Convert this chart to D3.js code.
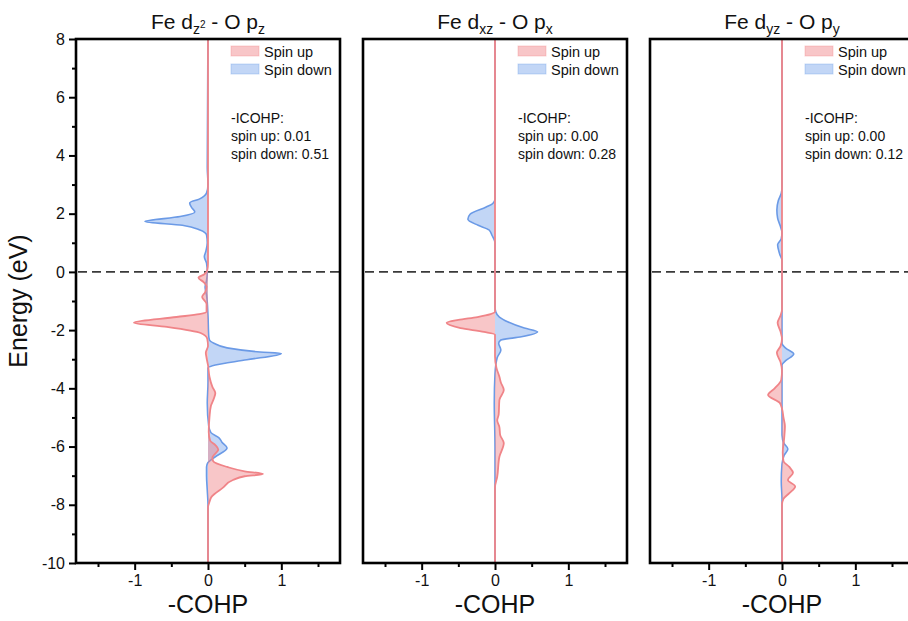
<!DOCTYPE html>
<html>
<head>
<meta charset="utf-8">
<script src="https://cdn.jsdelivr.net/npm/d3@7"></script>
<style>
  html, body { margin: 0; padding: 0; background: #fff; }
  svg { display: block; font-family: "Liberation Sans", Arial, sans-serif; }
</style>
</head>
<body>
<svg id="chart" width="908" height="621"></svg>
<script>
// Energy (eV) and -COHP values, one [energy, value] pair per point
const dz2Up = [[-10,0],[-8.1,0],[-7.9,0.02],[-7.72,0.05],[-7.42,0.2],[-7.15,0.34],[-7.02,0.5],[-6.94,0.75],[-6.85,0.5],[-6.7,0.26],[-6.5,0.07],[-6.38,0.06],[-6.1,0.14],[-5.95,0.1],[-5.8,0.03],[-5.5,0.01],[-5.0,0.02],[-4.6,0.04],[-4.35,0.08],[-4.16,0.1],[-3.95,0.06],[-3.6,0.02],[-3.2,0],[-2.95,-0.02],[-2.78,-0.03],[-2.55,0],[-2.3,-0.01],[-2.1,-0.1],[-1.89,-0.56],[-1.75,-1.01],[-1.55,-0.43],[-1.45,-0.12],[-1.37,-0.02],[-1.1,-0.02],[-0.86,-0.08],[-0.7,-0.04],[-0.5,-0.02],[-0.35,-0.06],[-0.2,-0.13],[-0.08,-0.05],[0.05,-0.01],[0.3,0],[8,0]];
const dz2Down = [[-10,0],[-8,0],[-7.5,-0.01],[-7.0,-0.02],[-6.7,-0.02],[-6.55,0],[-6.35,0.1],[-6.05,0.26],[-5.85,0.19],[-5.7,0.15],[-5.52,0.04],[-5.3,0.01],[-4.5,-0.01],[-3.8,0],[-3.3,0],[-3.2,0.1],[-3.02,0.53],[-2.8,1.0],[-2.75,0.71],[-2.61,0.26],[-2.45,0.08],[-2.34,0.02],[-2.2,0.01],[-1.5,0],[-0.8,-0.02],[-0.52,-0.04],[-0.3,-0.02],[0,-0.01],[0.3,-0.02],[0.52,-0.05],[0.7,-0.03],[1.0,-0.01],[1.27,-0.02],[1.44,-0.11],[1.6,-0.35],[1.73,-0.86],[1.9,-0.38],[2.06,-0.18],[2.2,-0.22],[2.37,-0.25],[2.5,-0.12],[2.71,-0.02],[3.0,0],[3.6,-0.01],[8,0]];
const dxzUp = [[-10,0],[-7.4,0],[-7.04,0.03],[-6.35,0.06],[-5.88,0.12],[-5.6,0.07],[-5.33,0.06],[-5.1,0.03],[-4.9,0.05],[-4.4,0.06],[-4.06,0.12],[-3.8,0.08],[-3.6,0.06],[-3.3,0.02],[-2.9,0],[-2.15,0],[-2.06,-0.15],[-1.93,-0.47],[-1.75,-0.66],[-1.65,-0.5],[-1.55,-0.24],[-1.45,-0.06],[-1.37,0],[8,0]];
const dxzDown = [[-10,0],[-6,0],[-4.5,-0.01],[-3.5,0],[-2.95,0.03],[-2.68,0.08],[-2.45,0.05],[-2.34,0.08],[-2.23,0.36],[-2.06,0.58],[-1.93,0.4],[-1.72,0.18],[-1.55,0.06],[-1.37,0.01],[-1.2,0],[1.0,0],[1.1,-0.01],[1.25,-0.04],[1.44,-0.08],[1.6,-0.23],[1.81,-0.37],[1.98,-0.34],[2.23,-0.12],[2.35,-0.03],[2.5,0],[8,0]];
const dyzUp = [[-10,0],[-8,0],[-7.8,0.02],[-7.6,0.1],[-7.37,0.18],[-7.15,0.08],[-6.9,0.15],[-6.7,0.1],[-6.5,0.02],[-6.2,0.01],[-5.7,0.03],[-5.3,0.04],[-5.0,0.02],[-4.7,0],[-4.5,-0.03],[-4.23,-0.19],[-4.0,-0.1],[-3.71,-0.01],[-3.4,0],[-3.1,-0.02],[-2.78,-0.07],[-2.55,-0.02],[-2.3,0],[-2.05,-0.02],[-1.75,-0.06],[-1.5,-0.02],[-1.3,0],[8,0]];
const dyzDown = [[-10,0],[-7.8,0],[-7.2,-0.01],[-6.6,0],[-6.3,0.03],[-6.08,0.08],[-5.9,0.03],[-5.6,0],[-3.2,0],[-3.05,0.05],[-2.82,0.16],[-2.62,0.05],[-2.45,0],[0.39,0],[0.6,-0.03],[0.93,-0.06],[1.14,-0.01],[1.35,0],[1.55,-0.02],[1.85,-0.06],[2.13,-0.07],[2.45,-0.05],[2.7,-0.01],[2.9,0],[8,0]];

// Integrated values printed in each panel
const icohpUp = ["0.01", "0.00", "0.00"];
const icohpDown = ["0.51", "0.28", "0.12"];

// Panel titles: orbital pair, split into main text and subscripts
const titleParts = [
  [["Fe d", "base"], ["z", "sub"], ["2", "supsub"], [" - O p", "back"], ["z", "sub"]],
  [["Fe d", "base"], ["xz", "sub"], [" - O p", "back"], ["x", "sub"]],
  [["Fe d", "base"], ["yz", "sub"], [" - O p", "back"], ["y", "sub"]]
];

const energyTicks = [-10, -8, -6, -4, -2, 0, 2, 4, 6, 8];
const energyMinor = [-9, -7, -5, -3, -1, 1, 3, 5, 7];
const cohpTicks = [-1, 0, 1];
const cohpMinor = [-1.5, -0.5, 0.5, 1.5];
const legendLabels = ["Spin up", "Spin down"];

const panels = [
  { up: dz2Up, down: dz2Down },
  { up: dxzUp, down: dxzDown },
  { up: dyzUp, down: dyzDown }
];

const upLine = "#f08488", upFill = "rgba(240,128,134,0.45)";
const downLine = "#6b9ae6", downFill = "rgba(120,165,235,0.45)";

const svg = d3.select("#chart");
const plotTop = 39, plotBottom = 563, panelW = 264;
const lefts = [76, 363, 650];

const y = d3.scaleLinear().domain([-10, 8]).range([plotBottom, plotTop]);

// Shared y-axis title
svg.append("text")
  .attr("transform", `translate(27,${(plotTop + plotBottom) / 2}) rotate(-90)`)
  .attr("text-anchor", "middle")
  .attr("font-size", 25)
  .attr("fill", "#111")
  .text("Energy (eV)");

panels.forEach((p, i) => {
  const left = lefts[i];
  const x = d3.scaleLinear().domain([-1.8, 1.8]).range([left, left + panelW]);
  const g = svg.append("g");

  const clipId = "clip" + i;
  g.append("clipPath").attr("id", clipId)
    .append("rect").attr("x", left).attr("y", plotTop).attr("width", panelW).attr("height", plotBottom - plotTop);
  const plot = g.append("g").attr("clip-path", `url(#${clipId})`);

  // Fermi level
  plot.append("line")
    .attr("x1", left + 2).attr("x2", left + panelW)
    .attr("y1", y(0)).attr("y2", y(0))
    .attr("stroke", "#3a3a3a").attr("stroke-width", 1.6)
    .attr("stroke-dasharray", "9,5");

  const area = d3.area().curve(d3.curveMonotoneY)
    .y(d => y(d[0])).x0(x(0)).x1(d => x(d[1]));
  const line = d3.line().curve(d3.curveMonotoneY)
    .x(d => x(d[1])).y(d => y(d[0]));

  // Spin down beneath, spin up on top
  plot.append("path").datum(p.down).attr("d", area).attr("fill", downFill);
  plot.append("path").datum(p.down).attr("d", line)
    .attr("fill", "none").attr("stroke", downLine).attr("stroke-width", 1.6);
  plot.append("path").datum(p.up).attr("d", area).attr("fill", upFill);
  plot.append("path").datum(p.up).attr("d", line)
    .attr("fill", "none").attr("stroke", upLine).attr("stroke-width", 1.8);

  // Bottom axis with major and minor ticks
  const xAxis = g.append("g").attr("transform", `translate(0,${plotBottom})`)
    .call(d3.axisBottom(x).tickValues(cohpTicks).tickSize(7).tickSizeOuter(0)
      .tickPadding(5).tickFormat(d => String(d)));
  xAxis.select(".domain").remove();
  xAxis.selectAll(".tick line").attr("stroke", "#000").attr("stroke-width", 2);
  xAxis.selectAll(".tick text").attr("font-size", 16).attr("fill", "#111")
    .attr("font-family", "Liberation Sans, Arial, sans-serif");
  const xMinor = g.append("g").attr("transform", `translate(0,${plotBottom})`)
    .call(d3.axisBottom(x).tickValues(cohpMinor).tickSize(4).tickSizeOuter(0).tickFormat(""));
  xMinor.select(".domain").remove();
  xMinor.selectAll(".tick line").attr("stroke", "#000").attr("stroke-width", 2);

  if (i === 0) {
    const yAxis = g.append("g").attr("transform", `translate(${left},0)`)
      .call(d3.axisLeft(y).tickValues(energyTicks).tickSize(7).tickSizeOuter(0)
        .tickPadding(4).tickFormat(d => String(d)));
    yAxis.select(".domain").remove();
    yAxis.selectAll(".tick line").attr("stroke", "#000").attr("stroke-width", 2);
    yAxis.selectAll(".tick text").attr("font-size", 16).attr("fill", "#111")
      .attr("font-family", "Liberation Sans, Arial, sans-serif");
    const yMinor = g.append("g").attr("transform", `translate(${left},0)`)
      .call(d3.axisLeft(y).tickValues(energyMinor).tickSize(4).tickSizeOuter(0).tickFormat(""));
    yMinor.select(".domain").remove();
    yMinor.selectAll(".tick line").attr("stroke", "#000").attr("stroke-width", 2);
  }

  // Frame
  g.append("rect")
    .attr("x", left).attr("y", plotTop).attr("width", panelW).attr("height", plotBottom - plotTop)
    .attr("fill", "none").attr("stroke", "#000").attr("stroke-width", 2.6);

  // Title
  const title = g.append("text")
    .attr("x", x(0)).attr("y", 29)
    .attr("text-anchor", "middle").attr("font-size", 21).attr("fill", "#111");
  let shift = 0;
  titleParts[i].forEach(([txt, kind]) => {
    const t = title.append("tspan").text(txt);
    if (kind === "sub") { t.attr("font-size", 14).attr("dy", 5 - shift); shift = 5; }
    else if (kind === "supsub") { t.attr("font-size", 10).attr("dy", -6 - shift + 5); shift = -1; }
    else if (kind === "back") { t.attr("dy", -shift); shift = 0; }
  });

  // X-axis title
  g.append("text")
    .attr("x", x(0)).attr("y", 613)
    .attr("text-anchor", "middle").attr("font-size", 25).attr("fill", "#111")
    .text("-COHP");

  // Legend
  const lg = g.append("g").attr("transform", `translate(${left + 155},46)`);
  [[upFill, upLine], [downFill, downLine]].forEach(([f, s], k) => {
    lg.append("rect").attr("x", 0).attr("y", k * 18).attr("width", 28).attr("height", 10)
      .attr("fill", f).attr("stroke", s).attr("stroke-opacity", 0.35);
    lg.append("text").attr("x", 33).attr("y", k * 18 + 10.5)
      .attr("font-size", 14.5).attr("fill", "#111").text(legendLabels[k]);
  });

  // Integrated COHP values
  const info = ["-ICOHP:", "spin up: " + icohpUp[i], "spin down: " + icohpDown[i]];
  info.forEach((s, k) => {
    g.append("text").attr("x", left + 155).attr("y", 123 + k * 18)
      .attr("font-size", 14).attr("fill", "#111").text(s);
  });
});
</script>
</body>
</html>
